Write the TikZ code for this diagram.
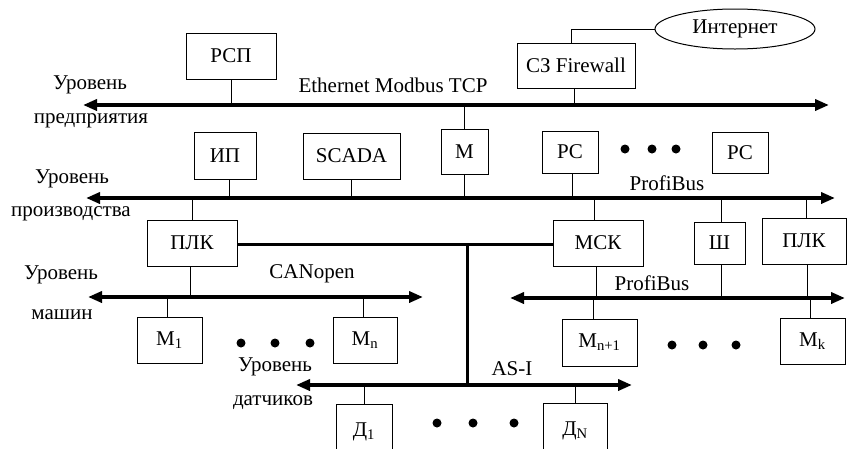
\documentclass[tikz,border=0pt]{standalone}
\usepackage{fontspec}
\setmainfont{Liberation Serif}
\usetikzlibrary{arrows.meta, shapes.geometric, positioning}

\tikzset{
	box/.style 2 args={draw, line width=1pt, inner sep=0pt, minimum width=#1pt, minimum height=#2pt},
	bus/.style={line width=3.5pt, {Triangle[length=14pt,width=11pt]}-{Triangle[length=14pt,width=11pt]}},
	trunk/.style={line width=3pt},
	link/.style={line width=1pt},
	lbl/.style={inner sep=0pt}
}

\begin{document}
\begin{tikzpicture}[x=1pt, y=-1pt]
	\fontsize{21}{25}\selectfont
	\useasboundingbox (0,0) rectangle (847,448);
	\clip (0,0) rectangle (847,448);

	% --- bus end points --- 
	\coordinate (busAL) at (83,105);  \coordinate (busAR) at (829,105);
	\coordinate (busBL) at (86,198);  \coordinate (busBR) at (835,198);
	\coordinate (busCL) at (88,297);  \coordinate (busCR) at (423,297);
	\coordinate (busDL) at (510,298); \coordinate (busDR) at (845,298);
	\coordinate (busEL) at (296,385); \coordinate (busER) at (632,385);
	\coordinate (knee) at (467,244);

	% --- enterprise level --- 
	\node[box={90}{46}] (rsp) at (231,56) {РСП};
	\node[box={118}{45}] (fw) at (576,65.5) {СЗ Firewall};
	\node[draw, line width=1pt, ellipse, inner sep=0pt, minimum width=160pt, minimum height=40pt] (inet) at (735,29) {Интернет};
	\node[lbl] (lvlA) at (90,85) {Уровень};
	\node[lbl] (lvlAb) at (91,121) {предприятия};
	\node[lbl] (eth) at (393,85) {Ethernet Modbus TCP};

	% --- production level --- 
	\node[box={62}{47}] (ip) at (225,155.5) {ИП};
	\node[box={97}{46}] (scada) at (351.5,156) {SCADA};
	\node[box={47}{45}] (m) at (464.5,151.5) {М};
	\node[box={56}{42}] (rsA) at (570,152) {РС};
	\node[box={56}{41}] (rsB) at (740,152.5) {РС};
	\node[lbl] (lvlB) at (72,179) {Уровень};
	\node[lbl] (lvlBb) at (71,214) {производства};
	\node[lbl] (pbA) at (667,183) {ProfiBus};

	% --- machine level --- 
	\node[box={90}{46}] (plkA) at (192,243) {ПЛК};
	\node[box={90}{46}] (msk) at (598,243) {МСК};
	\node[box={51}{42}] (sh) at (719.5,243) {Ш};
	\node[box={84}{46}] (plkB) at (804,241) {ПЛК};
	\node[box={65}{46}] (mA) at (169.5,340) {М\textsubscript{1}};
	\node[box={64}{46}] (mN) at (365,340) {М\textsubscript{n}};
	\node[box={75}{47}] (mNa) at (599.5,342.5) {М\textsubscript{n+1}};
	\node[box={65}{46}] (mK) at (812.5,341) {М\textsubscript{k}};
	\node[lbl] (lvlC) at (61,275) {Уровень};
	\node[lbl] (lvlCb) at (62,315) {машин};
	\node[lbl] (can) at (312,274) {CANopen};
	\node[lbl] (pbB) at (652,283) {ProfiBus};

	% --- sensor level --- 
	\node[box={56}{56}] (dA) at (364,432) {Д\textsubscript{1}};
	\node[box={64}{56}] (dN) at (575,431) {Д\textsubscript{N}};
	\node[lbl] (lvlD) at (275,367) {Уровень};
	\node[lbl] (lvlDb) at (273,403) {датчиков};
	\node[lbl] (asi) at (512,369) {AS-I};

	% --- buses --- 
	\draw[bus] (busAL) -- (busAR);
	\draw[bus] (busBL) -- (busBR);
	\draw[bus] (busCL) -- (busCR);
	\draw[bus] (busDL) -- (busDR);
	\draw[bus] (busEL) -- (busER);
	\draw[trunk] (plkA.east |- knee) -- (msk.west |- knee);
	\draw[trunk] (knee) -- (knee |- busEL);

	% --- drops --- 
	\draw[link] (inet.west) -| ([xshift=-5pt]fw.north);
	\draw[link] (rsp.south) -- (rsp.south |- busAL);
	\draw[link] ([xshift=-2pt]fw.south) -- ([xshift=-2pt]fw.south |- busAL);
	\draw[link] (m.north) -- (m.north |- busAL);
	\draw[link] (m.south) -- (m.south |- busBL);
	\draw[link] ([xshift=4pt]ip.south) -- ([xshift=4pt]ip.south |- busBL);
	\draw[link] (scada.south) -- (scada.south |- busBL);
	\draw[link] ([xshift=2pt]rsA.south) -- ([xshift=2pt]rsA.south |- busBL);
	\draw[link] (plkA.north) -- (plkA.north |- busBL);
	\draw[link] ([xshift=-4pt]msk.north) -- ([xshift=-4pt]msk.north |- busBL);
	\draw[link] ([xshift=2pt]sh.north) -- ([xshift=2pt]sh.north |- busBL);
	\draw[link] ([xshift=2pt]plkB.north) -- ([xshift=2pt]plkB.north |- busBL);
	\draw[link] ([xshift=-2pt]plkA.south) -- ([xshift=-2pt]plkA.south |- busCL);
	\draw[link] ([xshift=-2pt]mA.north) -- ([xshift=-2pt]mA.north |- busCL);
	\draw[link] ([xshift=-2pt]mN.north) -- ([xshift=-2pt]mN.north |- busCL);
	\draw[link] ([xshift=-2pt]msk.south) -- ([xshift=-2pt]msk.south |- busDL);
	\draw[link] ([xshift=2pt]sh.south) -- ([xshift=2pt]sh.south |- busDL);
	\draw[link] ([xshift=3pt]plkB.south) -- ([xshift=3pt]plkB.south |- busDL);
	\draw[link] ([xshift=-6pt]mNa.north) -- ([xshift=-6pt]mNa.north |- busDL);
	\draw[link] ([xshift=-2pt]mK.north) -- ([xshift=-2pt]mK.north |- busDL);
	\draw[link] (dA.north) -- (dA.north |- busEL);
	\draw[link] (dN.north) -- (dN.north |- busEL);

	% --- ellipsis dots --- 
	\fill (625,149) circle (4.5) (652,149) circle (4.5) (676,149) circle (4.5);
	\fill (241,343) circle (4.5) (275,343) circle (4.5) (310,343) circle (4.5);
	\fill (672,345) circle (4.5) (703,345) circle (4.5) (736,345) circle (4.5);
	\fill (437,423) circle (4.5) (473,423) circle (4.5) (514,423) circle (4.5);
\end{tikzpicture}
\end{document}
